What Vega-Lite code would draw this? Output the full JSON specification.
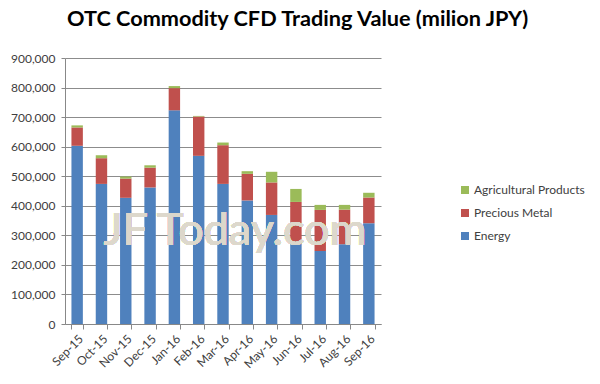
{
  "$schema": "https://vega.github.io/schema/vega-lite/v6.json",
  "width": 316,
  "height": 266,
  "autosize": "none",
  "padding": {"left": 65, "top": 58, "right": 219, "bottom": 60},
  "background": "white",
  "title": {
    "text": "OTC Commodity CFD Trading Value (milion JPY)",
    "anchor": "start",
    "frame": "group",
    "dx": 2,
    "offset": 21,
    "font": "Lato",
    "fontSize": 21.7,
    "fontWeight": "bold",
    "color": "#000000"
  },
  "data": {
    "values": [
      {"month": "Sep-15", "type": "Energy", "value": 603000},
      {"month": "Sep-15", "type": "Precious Metal", "value": 62000},
      {"month": "Sep-15", "type": "Agricultural Products", "value": 7000},
      {"month": "Oct-15", "type": "Energy", "value": 474000},
      {"month": "Oct-15", "type": "Precious Metal", "value": 87000},
      {"month": "Oct-15", "type": "Agricultural Products", "value": 10000},
      {"month": "Nov-15", "type": "Energy", "value": 427000},
      {"month": "Nov-15", "type": "Precious Metal", "value": 65000},
      {"month": "Nov-15", "type": "Agricultural Products", "value": 7000},
      {"month": "Dec-15", "type": "Energy", "value": 462000},
      {"month": "Dec-15", "type": "Precious Metal", "value": 67000},
      {"month": "Dec-15", "type": "Agricultural Products", "value": 8000},
      {"month": "Jan-16", "type": "Energy", "value": 723000},
      {"month": "Jan-16", "type": "Precious Metal", "value": 75000},
      {"month": "Jan-16", "type": "Agricultural Products", "value": 7000},
      {"month": "Feb-16", "type": "Energy", "value": 569000},
      {"month": "Feb-16", "type": "Precious Metal", "value": 133000},
      {"month": "Feb-16", "type": "Agricultural Products", "value": 2000},
      {"month": "Mar-16", "type": "Energy", "value": 474000},
      {"month": "Mar-16", "type": "Precious Metal", "value": 131000},
      {"month": "Mar-16", "type": "Agricultural Products", "value": 9000},
      {"month": "Apr-16", "type": "Energy", "value": 418000},
      {"month": "Apr-16", "type": "Precious Metal", "value": 90000},
      {"month": "Apr-16", "type": "Agricultural Products", "value": 9000},
      {"month": "May-16", "type": "Energy", "value": 369000},
      {"month": "May-16", "type": "Precious Metal", "value": 110000},
      {"month": "May-16", "type": "Agricultural Products", "value": 36000},
      {"month": "Jun-16", "type": "Energy", "value": 271000},
      {"month": "Jun-16", "type": "Precious Metal", "value": 142000},
      {"month": "Jun-16", "type": "Agricultural Products", "value": 44000},
      {"month": "Jul-16", "type": "Energy", "value": 247000},
      {"month": "Jul-16", "type": "Precious Metal", "value": 139000},
      {"month": "Jul-16", "type": "Agricultural Products", "value": 17000},
      {"month": "Aug-16", "type": "Energy", "value": 270000},
      {"month": "Aug-16", "type": "Precious Metal", "value": 117000},
      {"month": "Aug-16", "type": "Agricultural Products", "value": 16000},
      {"month": "Sep-16", "type": "Energy", "value": 341000},
      {"month": "Sep-16", "type": "Precious Metal", "value": 87000},
      {"month": "Sep-16", "type": "Agricultural Products", "value": 16000}
    ]
  },
  "layer": [
    {
      "transform": [
        {"calculate": "indexof(['Energy','Precious Metal','Agricultural Products'], datum.type)", "as": "stackOrder"}
      ],
      "mark": {"type": "bar"},
      "encoding": {
        "x": {
          "field": "month",
          "type": "nominal",
          "sort": null,
          "scale": {"paddingInner": 0.53, "paddingOuter": 0.265},
          "axis": {
            "title": null,
            "labelAngle": -45,
            "labelFont": "Lato",
            "labelFontSize": 12,
            "labelColor": "#404040",
            "labelPadding": 4,
            "tickBand": "extent",
            "tickSize": 5,
            "tickColor": "#888888",
            "domainColor": "#888888",
            "grid": false
          }
        },
        "y": {
          "field": "value",
          "type": "quantitative",
          "stack": "zero",
          "scale": {"domain": [0, 900000], "nice": false},
          "axis": {
            "title": null,
            "values": [0, 100000, 200000, 300000, 400000, 500000, 600000, 700000, 800000, 900000],
            "labelExpr": "format(datum.value, ',')",
            "labelFont": "Lato",
            "labelFontSize": 12,
            "labelColor": "#404040",
            "labelPadding": 6,
            "tickSize": 4,
            "tickColor": "#888888",
            "domainColor": "#888888",
            "grid": true,
            "gridColor": "#8c8c8c",
            "gridWidth": 1
          }
        },
        "color": {
          "field": "type",
          "type": "nominal",
          "scale": {
            "domain": ["Agricultural Products", "Precious Metal", "Energy"],
            "range": ["#9BBB59", "#C0504D", "#4F81BD"]
          },
          "legend": {
            "title": null,
            "orient": "none",
            "legendX": 394,
            "legendY": 126,
            "symbolType": "square",
            "symbolSize": 64,
            "symbolStrokeWidth": 0,
            "labelFont": "Lato",
            "labelFontSize": 12,
            "labelColor": "#404040",
            "labelOffset": 3,
            "rowPadding": 11
          }
        },
        "order": {"field": "stackOrder", "type": "quantitative"}
      }
    },
    {
      "mark": {
        "type": "text",
        "text": "JF Today.com",
        "font": "Lato",
        "fontSize": 45,
        "fontWeight": "normal",
        "baseline": "alphabetic",
        "color": "#ddd8cc",
        "opacity": 0.6,
        "dx": 12
      },
      "encoding": {
        "x": {
          "datum": "Mar-16",
          "type": "nominal",
          "axis": {
            "title": null,
            "labelAngle": -45,
            "labelFont": "Lato",
            "labelFontSize": 12,
            "labelColor": "#404040",
            "labelPadding": 4,
            "tickBand": "extent",
            "tickSize": 5,
            "tickColor": "#888888",
            "domainColor": "#888888",
            "grid": false
          }
        },
        "y": {
          "datum": 267000,
          "type": "quantitative",
          "axis": {
            "title": null,
            "values": [0, 100000, 200000, 300000, 400000, 500000, 600000, 700000, 800000, 900000],
            "labelExpr": "format(datum.value, ',')",
            "labelFont": "Lato",
            "labelFontSize": 12,
            "labelColor": "#404040",
            "labelPadding": 6,
            "tickSize": 4,
            "tickColor": "#888888",
            "domainColor": "#888888",
            "grid": true,
            "gridColor": "#8c8c8c",
            "gridWidth": 1
          }
        }
      }
    }
  ],
  "config": {
    "view": {"stroke": null}
  }
}
